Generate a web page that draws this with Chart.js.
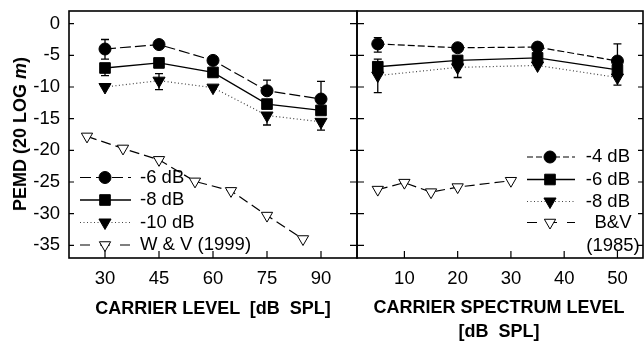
<!DOCTYPE html>
<html>
<head>
<meta charset="utf-8">
<script src="https://cdn.jsdelivr.net/npm/chart.js@4.4.0/dist/chart.umd.min.js"></script>
<style>
    html, body { margin: 0; padding: 0; background: #fff; }
    #wrap { position: relative; width: 644px; height: 341px; font-family: "Liberation Sans", Arial, sans-serif; color: #000; overflow: hidden; }
    .title { position: absolute; font-weight: bold; font-size: 18px; white-space: pre; text-align: center; line-height: 24px; }
</style>
</head>
<body>
<div id="wrap">
    <canvas id="leftChart" width="358" height="341" style="position:absolute;left:0;top:0;"></canvas>
    <canvas id="rightChart" width="288" height="341" style="position:absolute;left:356px;top:0;"></canvas>
    <div class="title" style="left:20px;top:134px;transform:translate(-50%,-50%) rotate(-90deg);">PEMD (20 LOG <i>m</i>)</div>
    <div class="title" style="left:213px;top:296px;transform:translateX(-50%);">CARRIER LEVEL  [dB  SPL]</div>
    <div class="title" style="left:499px;top:295px;transform:translateX(-50%);">CARRIER SPECTRUM LEVEL
[dB  SPL]</div>
</div>
<script>
    // Datos del panel izquierdo (nivel de portadora)
    const leftX = [30, 45, 60, 75, 90];
    const left6 = [-4.0, -3.3, -5.8, -10.6, -11.9];
    const left8 = [-7.0, -6.2, -7.7, -12.7, -13.7];
    const left10 = [-10.0, -9.0, -10.1, -14.5, -15.5];
    const left6Hi = [-2.5, null, null, -8.9, -9.1];
    const left6Lo = [-5.6, null, null, null, null];
    const left8Lo = [-8.2, null, null, null, null];
    const left10Hi = [null, -7.9, null, null, null];
    const left10Lo = [null, -10.4, null, -16.0, -16.8];
    const wvX = [25, 35, 45, 55, 65, 75, 85];
    const wvY = [-17.8, -19.7, -21.5, -24.9, -26.4, -30.3, -34.0];

    // Datos del panel derecho (nivel espectral)
    const rightX = [5, 20, 35, 50];
    const right4 = [-3.2, -3.8, -3.7, -5.9];
    const right6 = [-6.8, -5.8, -5.4, -7.3];
    const right8 = [-8.2, -6.9, -6.6, -8.5];
    const right4Hi = [-2.2, null, null, -3.2];
    const right4Lo = [-4.5, null, null, null];
    const right6Hi = [-5.6, null, null, null];
    const right8Lo = [-10.9, -8.5, null, -9.7];
    const bvX = [5, 10, 15, 20, 30];
    const bvY = [-26.2, -25.1, -26.6, -25.8, -24.8];

    // Ejes
    const yTicks = [-35, -30, -25, -20, -15, -10, -5, 0];
    const leftXTicks = [30, 45, 60, 75, 90];
    const rightXTicks = [10, 20, 30, 40, 50];

    const FONT = '"Liberation Sans", Arial, sans-serif';
    Chart.defaults.font.family = FONT;
    Chart.defaults.font.size = 18.5;
    Chart.defaults.color = '#000';

    function toPoints(xs, ys) {
        return xs.map(function(x, i) { return {x: x, y: ys[i]}; });
    }

    const styles = {
        circle: {pointStyle: 'circle', pointRadius: 6, pointRotation: 0, pointBackgroundColor: '#000', pointBorderColor: '#000', pointBorderWidth: 1, borderColor: '#000', borderWidth: 1.2},
        square: {pointStyle: 'rect', pointRadius: 7.5, pointRotation: 0, pointBackgroundColor: '#000', pointBorderColor: '#000', pointBorderWidth: 1, borderColor: '#000', borderWidth: 1.3, borderDash: []},
        triDown: {pointStyle: 'triangle', pointRadius: 7, pointRotation: 180, pointBackgroundColor: '#000', pointBorderColor: '#000', pointBorderWidth: 1, borderColor: '#444', borderWidth: 1.2, borderDash: [1, 2.5]},
        openTri: {pointStyle: 'triangle', pointRadius: 6.5, pointRotation: 180, pointBackgroundColor: '#fff', pointBorderColor: '#000', pointBorderWidth: 1, borderColor: '#000', borderWidth: 1.2, borderDash: [10, 5]}
    };

    function ds(label, xs, ys, style, extra) {
        return Object.assign({label: label, data: toPoints(xs, ys), tension: 0, fill: false}, style, extra || {});
    }

    // Barras de error dibujadas con las escalas del gráfico
    const errorBarPlugin = {
        id: 'errorBars',
        beforeDatasetsDraw(chart) {
            const ctx = chart.ctx;
            const yScale = chart.scales.y;
            ctx.save();
            ctx.strokeStyle = '#000';
            ctx.lineWidth = 1.3;
            chart.data.datasets.forEach(function(d, di) {
                const meta = chart.getDatasetMeta(di);
                ['errHi', 'errLo'].forEach(function(key) {
                    if (!d[key]) return;
                    d[key].forEach(function(v, i) {
                        if (v === null) return;
                        const pt = meta.data[i];
                        const py = yScale.getPixelForValue(v);
                        ctx.beginPath();
                        ctx.moveTo(pt.x, pt.y);
                        ctx.lineTo(pt.x, py);
                        ctx.moveTo(pt.x - 4, py);
                        ctx.lineTo(pt.x + 4, py);
                        ctx.stroke();
                    });
                });
            });
            ctx.restore();
        }
    };

    // Marco con marcas hacia dentro
    const framePlugin = {
        id: 'frame',
        afterDraw(chart, args, opts) {
            const ctx = chart.ctx;
            const a = chart.chartArea;
            const x = chart.scales.x;
            const y = chart.scales.y;
            ctx.save();
            ctx.strokeStyle = '#000';
            ctx.lineWidth = 1.6;
            ctx.strokeRect(a.left, a.top, a.right - a.left, a.bottom - a.top);
            ctx.lineWidth = 1.2;
            ctx.beginPath();
            y.ticks.forEach(function(t) {
                const py = y.getPixelForValue(t.value);
                ctx.moveTo(a.left, py);
                ctx.lineTo(a.left + opts.leftLen, py);
                ctx.moveTo(a.right, py);
                ctx.lineTo(a.right - opts.rightLen, py);
            });
            x.ticks.forEach(function(t) {
                const px = x.getPixelForValue(t.value);
                ctx.moveTo(px, a.bottom);
                ctx.lineTo(px, a.bottom - 7);
            });
            ctx.stroke();
            ctx.restore();
        }
    };

    // Leyenda con muestra de línea y marcador
    const lineLegendPlugin = {
        id: 'lineLegend',
        afterDatasetsDraw(chart, args, opts) {
            const ctx = chart.ctx;
            ctx.save();
            ctx.font = '18.5px ' + FONT;
            ctx.textBaseline = 'middle';
            opts.items.forEach(function(item) {
                const d = chart.data.datasets[item.ds];
                ctx.strokeStyle = d.borderColor;
                ctx.lineWidth = d.borderWidth;
                ctx.setLineDash(item.dash || d.borderDash || []);
                ctx.beginPath();
                ctx.moveTo(opts.x0, item.y);
                ctx.lineTo(opts.x1, item.y);
                ctx.stroke();
                ctx.setLineDash([]);
                ctx.fillStyle = d.pointBackgroundColor;
                ctx.strokeStyle = d.pointBorderColor;
                ctx.lineWidth = d.pointBorderWidth;
                Chart.helpers.drawPoint(ctx, {pointStyle: d.pointStyle, radius: d.pointRadius, rotation: d.pointRotation, borderWidth: d.pointBorderWidth}, opts.mx, item.y);
                ctx.fillStyle = '#000';
                ctx.textAlign = item.align || opts.align;
                ctx.fillText(item.text, item.tx !== undefined ? item.tx : opts.tx, item.y);
            });
            (opts.extra || []).forEach(function(t) {
                ctx.textAlign = t.align;
                ctx.fillText(t.text, t.x, t.y);
            });
            ctx.restore();
        }
    };

    function makeScales(xMin, xMax, xTicks, showY) {
        return {
            x: {
                type: 'linear', min: xMin, max: xMax,
                grid: {display: false, drawTicks: false},
                border: {display: false},
                ticks: {padding: 10},
                afterBuildTicks: function(s) { s.ticks = xTicks.map(function(v) { return {value: v}; }); },
                afterFit: function(s) { s.height = 83; s.paddingLeft = 0; s.paddingRight = 0; }
            },
            y: {
                type: 'linear', min: -37, max: 2, display: showY,
                grid: {display: false, drawTicks: false},
                border: {display: false},
                ticks: {padding: 9},
                afterBuildTicks: function(s) { s.ticks = yTicks.map(function(v) { return {value: v}; }); },
                afterFit: function(s) {
                    s.width = showY ? 69 : 0;
                    s.paddingTop = 0;
                    s.paddingBottom = 0;
                }
            }
        };
    }

    function baseOptions(scales, padding, frame, legend) {
        return {
            responsive: false,
            animation: false,
            devicePixelRatio: 1,
            layout: {padding: padding, autoPadding: false},
            scales: scales,
            plugins: {
                legend: {display: false},
                tooltip: {enabled: false},
                frame: frame,
                lineLegend: legend
            }
        };
    }

    new Chart(document.getElementById('leftChart'), {
        type: 'line',
        data: {
            datasets: [
                ds('-6 dB', leftX, left6, styles.circle, {borderDash: [11, 4], errHi: left6Hi, errLo: left6Lo}),
                ds('-8 dB', leftX, left8, styles.square, {errLo: left8Lo}),
                ds('-10 dB', leftX, left10, styles.triDown, {errHi: left10Hi, errLo: left10Lo}),
                ds('W & V (1999)', wvX, wvY, styles.openTri)
            ]
        },
        options: baseOptions(
            makeScales(20, 100, leftXTicks, true),
            {top: 11, right: 1, bottom: 0, left: 0},
            {leftLen: 5, rightLen: 7},
            {
                x0: 80, x1: 131, mx: 105, tx: 140, align: 'left',
                items: [
                    {ds: 0, y: 177.5, text: '-6 dB', dash: [11, 5]},
                    {ds: 1, y: 200, text: '-8 dB'},
                    {ds: 2, y: 222.5, text: '-10 dB'},
                    {ds: 3, y: 245, text: 'W & V (1999)', dash: [10, 10]}
                ]
            }
        ),
        plugins: [errorBarPlugin, framePlugin, lineLegendPlugin]
    });

    new Chart(document.getElementById('rightChart'), {
        type: 'line',
        data: {
            datasets: [
                ds('-4 dB', rightX, right4, styles.circle, {borderDash: [7, 3], errHi: right4Hi, errLo: right4Lo}),
                ds('-6 dB', rightX, right6, styles.square, {errHi: right6Hi}),
                ds('-8 dB', rightX, right8, styles.triDown, {errLo: right8Lo}),
                ds('B&V', bvX, bvY, styles.openTri)
            ]
        },
        options: baseOptions(
            makeScales(1.1, 54.8, rightXTicks, false),
            {top: 11, right: 1, bottom: 0, left: 1},
            {leftLen: 7, rightLen: 5},
            {
                x0: 171, x1: 219, mx: 194, tx: 274, align: 'right',
                items: [
                    {ds: 0, y: 157, text: '-4 dB', dash: [6, 3]},
                    {ds: 1, y: 179.5, text: '-6 dB'},
                    {ds: 2, y: 201.5, text: '-8 dB'},
                    {ds: 3, y: 222.5, text: 'B&V', align: 'center', tx: 257, dash: [10, 10]}
                ],
                extra: [{text: '(1985)', x: 257, y: 246, align: 'center'}]
            }
        ),
        plugins: [errorBarPlugin, framePlugin, lineLegendPlugin]
    });
</script>
</body>
</html>
